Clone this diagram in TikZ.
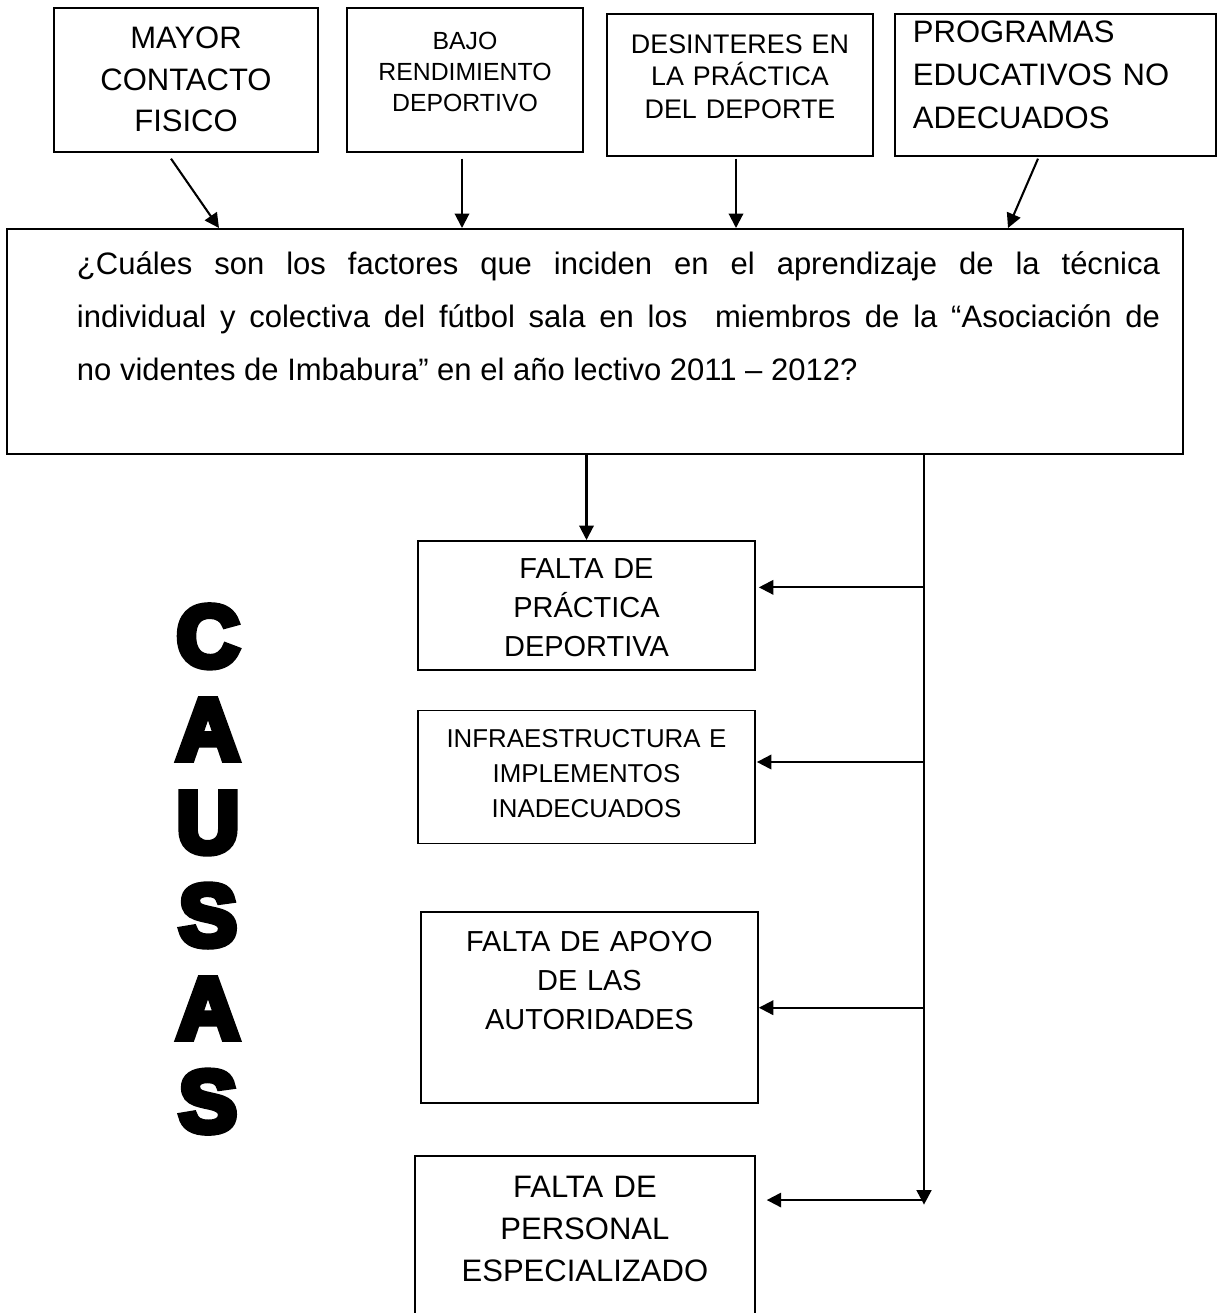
\documentclass[tikz,border=0pt]{standalone}
\usepackage{fontspec}
\setmainfont{Liberation Sans}
\newfontfamily\heavyfont{Liberation Sans}[BoldFeatures={FakeBold=8}]
\usepackage{tikz}
\usetikzlibrary{arrows.meta,positioning,calc}

\begin{document}
\begin{tikzpicture}[
			x=0.017cm, y=-0.017cm,
			box/.style={draw, line width=0.8pt, anchor=north, inner sep=0pt, align=center},
			arrow/.style={->, >={Triangle[length=7pt,width=7pt]}, line width=1pt},
			bus/.style={->, >={Triangle[length=7pt,width=7pt]}, line width=1.4pt}
		]
		\useasboundingbox (0,0) rectangle (1221,1313);
		\clip (0,0) rectangle (1221,1313);

		\node[box, text width=4.49cm, text height=0.697cm, text depth=1.751cm, font=\fontsize{15pt}{20.1pt}\selectfont] (mayor) at (186,7) {MAYOR\\CONTACTO\\FISICO};
		\node[box, text width=4.01cm, text height=0.714cm, text depth=1.734cm, font=\fontsize{12pt}{15pt}\selectfont] (bajo) at (465,7) {BAJO\\RENDIMIENTO\\DEPORTIVO};
		\node[box, text width=4.52cm, text height=0.673cm, text depth=1.741cm, font=\fontsize{13pt}{15.7pt}\selectfont] (desinteres) at (740,13) {DESINTERES EN\\LA PRÁCTICA\\DEL DEPORTE};
		\node[box, align=left, inner xsep=0.306cm, text width=4.845cm, text height=0.493cm, text depth=1.921cm, font=\fontsize{15pt}{20.8pt}\selectfont] (programas) at (1055.5,13) {PROGRAMAS\\EDUCATIVOS NO\\ADECUADOS};

		\node[box, align=justify, inner xsep=0.391cm, text width=19.21cm, text height=0.782cm, text depth=3.043cm, font=\fontsize{15pt}{25.6pt}\selectfont] (question) at (595,228) {\hspace*{0.799cm}¿Cuáles son los factores que inciden en el aprendizaje de la técnica\linebreak\hspace*{0.799cm}individual y colectiva del fútbol sala en los\ \ miembros de la “Asociación de\linebreak\hspace*{0.799cm}no videntes de Imbabura” en el año lectivo 2011 – 2012?};

		\node[box, text width=5.73cm, text height=0.646cm, text depth=1.547cm, font=\fontsize{14pt}{18.9pt}\selectfont] (practica) at (586.5,540) {FALTA DE\\PRÁCTICA\\DEPORTIVA};
		\node[box, text width=5.73cm, text height=0.629cm, text depth=1.632cm, font=\fontsize{12.5pt}{16.9pt}\selectfont, below=0.663cm of practica] (infra) {INFRAESTRUCTURA E\\IMPLEMENTOS\\INADECUADOS};
		\node[box, text width=5.73cm, text height=0.663cm, text depth=2.584cm, font=\fontsize{14pt}{18.9pt}\selectfont, below=1.139cm of infra, xshift=0.05cm] (apoyo) {FALTA DE APOYO\\DE LAS\\AUTORIDADES};
		\node[box, text width=5.78cm, text height=0.714cm, text depth=2.6cm, font=\fontsize{15pt}{20.3pt}\selectfont, below=0.867cm of apoyo, xshift=-0.077cm] (personal) {FALTA DE\\PERSONAL\\ESPECIALIZADO};

		\node[align=center, inner sep=0pt, font=\heavyfont\bfseries\fontsize{42pt}{45pt}\selectfont] (causas) at (208,869) {C\\A\\U\\S\\A\\S};

		\draw[arrow] ($(mayor.south)+(-15,6)$) -- ($(mayor.south |- question.north)+(33,0)$);
		\draw[arrow] ($(bajo.south)+(-3,6)$) -- ($(bajo.south |- question.north)+(-3,0)$);
		\draw[arrow] ($(desinteres.south)+(-4,2)$) -- ($(desinteres.south |- question.north)+(-4,0)$);
		\draw[arrow] ($(programas.south)+(-17.5,2)$) -- ($(programas.south |- question.north)+(-47.5,0)$);

		\draw[arrow] (practica.north |- question.south) -- (practica.north);

		\coordinate (bus) at ($(question.south)+(329,0)$);
		\coordinate (busend) at ($(bus)+(0,750)$);
		\draw[bus] (bus) -- (busend);

		\coordinate (t1) at ($(practica.east)+(3,-18)$);
		\coordinate (t2) at ($(infra.east)+(1,-15)$);
		\coordinate (t3) at (apoyo.east);
		\coordinate (t4) at ($(personal.north east)+(11,45)$);
		\draw[arrow] (t1 -| bus) -- (t1);
		\draw[arrow] (t2 -| bus) -- (t2);
		\draw[arrow] (t3 -| bus) -- (t3);
		\draw[arrow] (t4 -| bus) -- (t4);

	\end{tikzpicture}
\end{document}
